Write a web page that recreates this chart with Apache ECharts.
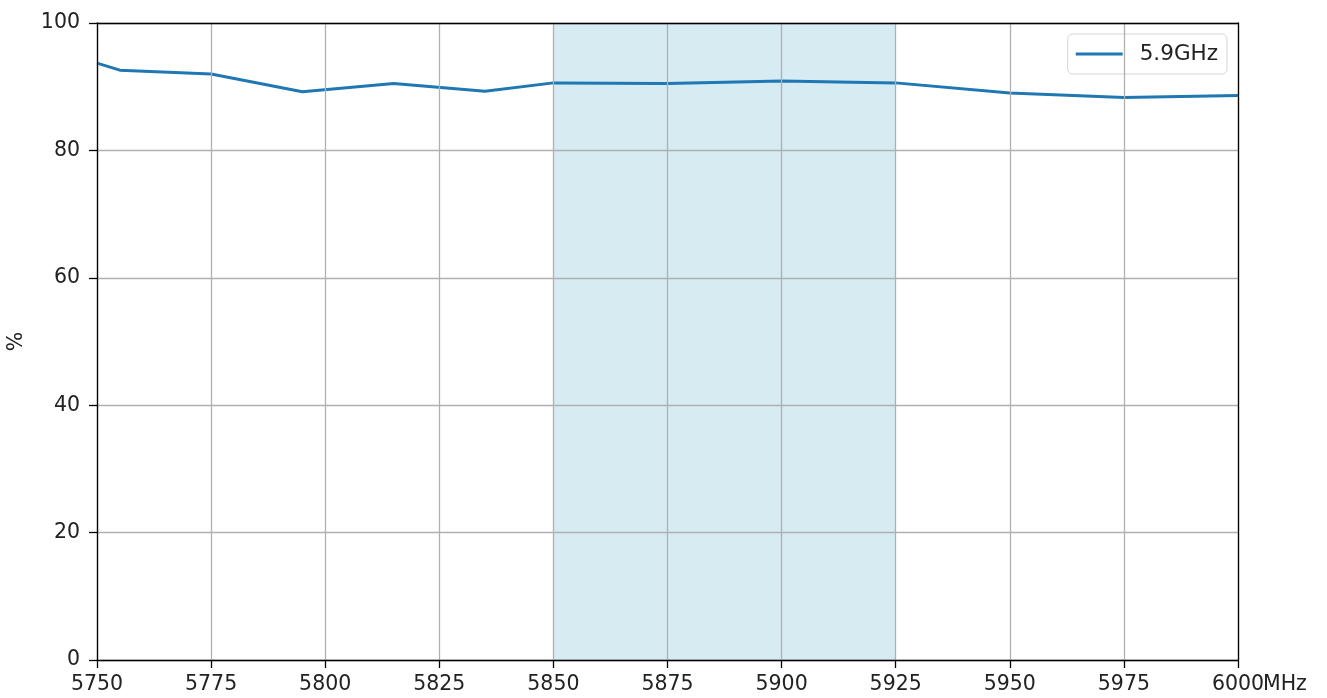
<!DOCTYPE html>
<html><head><meta charset="utf-8">
<script src="https://cdn.jsdelivr.net/npm/echarts@6/dist/echarts.min.js"></script>
<style>html,body{margin:0;padding:0;background:#fff}#c{width:1327px;height:698px}</style>
</head><body><div id="c"></div>
<script>
var freqs = [5750, 5755, 5775, 5795, 5815, 5835, 5850, 5875, 5900, 5925, 5950, 5975, 6000];
var values = [93.7, 92.6, 92.0, 89.2, 90.5, 89.3, 90.6, 90.5, 90.9, 90.6, 89.0, 88.3, 88.6];
var seriesName = '5.9GHz';
var bandStart = 5850, bandEnd = 5925;
var xTicks = [5750, 6000, 25];
var yTicks = [0, 100, 20];

var font = 'DejaVu Sans';
var chart = echarts.init(document.getElementById('c'));
var data = freqs.map(function (f, i) { return [f, values[i]]; });
var spine = { show: true, onZero: false, lineStyle: { color: '#000', width: 1.3 } };
chart.setOption({
  animation: false,
  grid: { left: 97, right: 89, top: 23, bottom: 38, outerBoundsMode: 'none', containLabel: false },
  legend: {
    right: 100, top: 34, orient: 'horizontal',
    data: [{ name: seriesName, icon: 'rect' }],
    itemWidth: 47, itemHeight: 3, itemGap: 10,
    padding: [9, 9, 9, 8],
    borderColor: '#d5d5d5', borderWidth: 1, borderRadius: 5,
    backgroundColor: 'rgba(255,255,255,0.8)',
    textStyle: { fontFamily: font, fontSize: 21.5, color: '#222', padding: [0, 0, 0, 12] }
  },
  xAxis: [{
    type: 'value', min: xTicks[0], max: xTicks[1], interval: xTicks[2], z: 10,
    name: 'MHz', nameLocation: 'end', nameGap: 25, nameMoveOverlap: false,
    nameTextStyle: { fontFamily: font, fontSize: 20.5, color: '#222', align: 'left', verticalAlign: 'top', padding: [14, 0, 0, 0] },
    axisLine: spine,
    axisTick: { show: true, length: 8, lineStyle: { color: '#000', width: 1.3 } },
    axisLabel: { fontFamily: font, fontSize: 20.5, color: '#222', margin: 14, formatter: function (v) { return String(v); } },
    splitLine: { show: true, lineStyle: { color: '#b0b0b0', width: 1.3 } }
  }, {
    type: 'value', position: 'top', min: xTicks[0], max: xTicks[1], z: 10,
    axisLine: spine, axisTick: { show: false }, axisLabel: { show: false }, splitLine: { show: false }
  }],
  yAxis: [{
    type: 'value', min: yTicks[0], max: yTicks[1], interval: yTicks[2], z: 10,
    name: '%', nameLocation: 'middle', nameGap: 70, nameRotate: 90,
    nameTextStyle: { fontFamily: font, fontSize: 20.5, color: '#222' },
    axisLine: spine,
    axisTick: { show: true, length: 8, lineStyle: { color: '#000', width: 1.3 } },
    axisLabel: { fontFamily: font, fontSize: 20.5, color: '#222', margin: 17 },
    splitLine: { show: true, lineStyle: { color: '#b0b0b0', width: 1.3 } }
  }, {
    type: 'value', position: 'right', min: yTicks[0], max: yTicks[1], z: 10,
    axisLine: spine, axisTick: { show: false }, axisLabel: { show: false }, splitLine: { show: false }
  }],
  series: [{
    name: seriesName, type: 'line', data: data,
    symbol: 'none', showSymbol: false,
    lineStyle: { color: '#1f77b4', width: 3 },
    itemStyle: { color: '#1f77b4' },
    markArea: {
      silent: true,
      itemStyle: { color: 'rgba(173,216,230,0.5)' },
      data: [[{ xAxis: bandStart }, { xAxis: bandEnd }]]
    }
  }]
});
</script></body></html>
